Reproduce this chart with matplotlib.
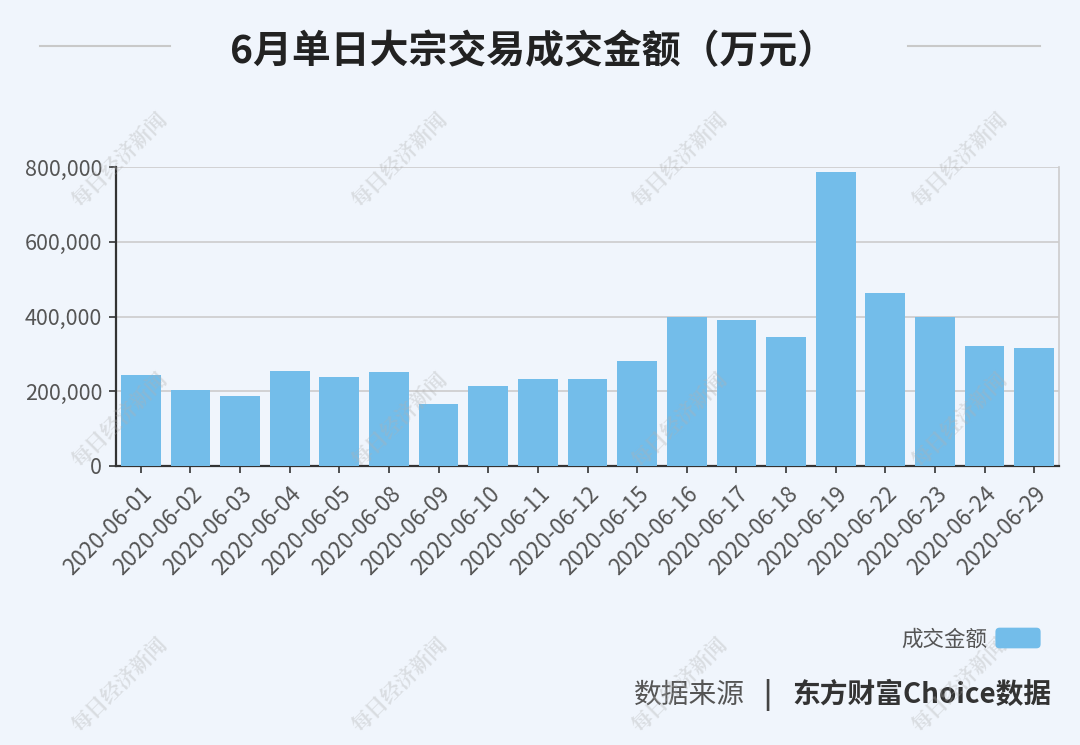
import matplotlib
matplotlib.use("Agg")
import matplotlib.pyplot as plt
from matplotlib.ticker import FuncFormatter
from matplotlib.patches import FancyBboxPatch
from matplotlib.container import BarContainer
from matplotlib.legend_handler import HandlerPatch

plt.rcParams['font.family'] = ['Noto Sans CJK SC', 'DejaVu Sans']

# === DATA ===
dates = ["2020-06-01", "2020-06-02", "2020-06-03", "2020-06-04", "2020-06-05",
         "2020-06-08", "2020-06-09", "2020-06-10", "2020-06-11", "2020-06-12",
         "2020-06-15", "2020-06-16", "2020-06-17", "2020-06-18", "2020-06-19",
         "2020-06-22", "2020-06-23", "2020-06-24", "2020-06-29"]
amounts = [244000, 204000, 188000, 255000, 238000,
           252000, 166000, 214000, 234000, 234000,
           281000, 398000, 390000, 346000, 788000,
           463000, 400000, 322000, 317000]
series_name = "成交金额"
title = "6月单日大宗交易成交金额（万元）"
y_ticks = [0, 200000, 400000, 600000, 800000]

# === STYLE ===
BG = "#f0f5fc"
BAR = "#73bdea"
TXT = "#555555"


class RoundHandler(HandlerPatch):
    # rounded legend swatch
    def create_artists(self, legend, orig_handle, xdescent, ydescent,
                       width, height, fontsize, trans):
        p = FancyBboxPatch((-xdescent, -ydescent), width, height,
                           boxstyle="round,pad=0,rounding_size=3",
                           fc=BAR, ec="none", transform=trans)
        return [p]


fig = plt.figure(figsize=(10.8, 7.45), dpi=100, facecolor=BG)
ax = fig.add_axes([0.1074, 0.3745, 0.8732, 0.4013], facecolor=BG)

x = range(len(dates))
ax.bar(x, amounts, width=0.8, color=BAR, label=series_name, zorder=3)

ax.set_xlim(-0.5, len(dates) - 0.5)
ax.set_ylim(0, 800000)
ax.set_yticks(y_ticks)
ax.yaxis.set_major_formatter(FuncFormatter(lambda v, p: f"{int(v):,}"))
ax.set_xticks(list(x))
ax.set_xticklabels(dates, rotation=45, ha="right", rotation_mode="anchor")
ax.tick_params(axis="both", colors="#333333", labelcolor=TXT, length=5, width=1.2)
ax.tick_params(axis="y", labelsize=15.5, pad=5)
ax.tick_params(axis="x", labelsize=16, pad=7)
ax.grid(axis="y", color="#cccccc", linewidth=1.2, zorder=0)

for side in ("left", "bottom"):
    ax.spines[side].set_color("#333333")
    ax.spines[side].set_linewidth(1.6)
ax.spines["right"].set_color("#cccccc")
ax.spines["right"].set_linewidth(1.2)
ax.spines["top"].set_visible(False)

# title with side rules
fig.text(533 / 1080, 1 - 52 / 745, title, ha="center", va="center", fontsize=28,
         fontweight="bold", color="#222222")
fig.add_artist(plt.Line2D([40 / 1080, 170 / 1080], [1 - 46 / 745] * 2,
                          color="#c9c9c9", linewidth=1.5))
fig.add_artist(plt.Line2D([908 / 1080, 1040 / 1080], [1 - 46 / 745] * 2,
                          color="#c9c9c9", linewidth=1.5))

# legend
fig.legend(loc="center right", bbox_to_anchor=(1060 / 1080, 1 - 639 / 745),
           frameon=False, markerfirst=False, fontsize=15.5, labelcolor=TXT,
           handlelength=2.1, handleheight=1.1, handletextpad=0.4,
           handler_map={BarContainer: RoundHandler()})

# source
src_y = 1 - 695 / 745
fig.text(745 / 1080, src_y, "数据来源", ha="right", va="center",
         fontsize=20, color="#555555")
fig.text(767 / 1080, src_y, "|", ha="center", va="center",
         fontsize=20, fontweight="bold", color="#444444")
fig.text(1052 / 1080, src_y, "东方财富Choice数据", ha="right", va="center",
         fontsize=20, fontweight="bold", color="#333333")

# watermark
for wx in (120, 400, 680, 960):
    for wy in (160, 420, 685):
        fig.text(wx / 1080, 1 - wy / 745, "每日经济新闻", ha="center", va="center",
                 rotation=45, fontsize=15, fontweight="bold", color="#b0b0b0",
                 alpha=0.35, family=["Noto Serif CJK SC", "Noto Sans CJK SC"])

fig.savefig("out.png", dpi=100, facecolor=BG)
